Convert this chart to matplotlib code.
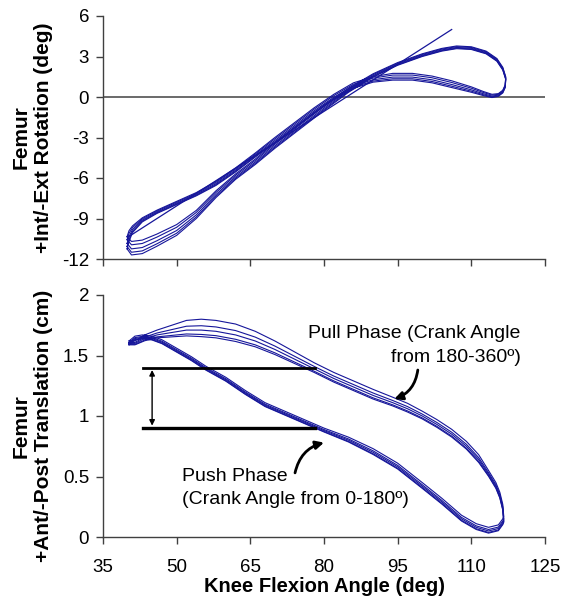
import numpy as np
import matplotlib.pyplot as plt

# knee flexion angle ticks
x_ticks = [35, 50, 65, 80, 95, 110, 125]

# femur rotation loop: first the lower/outer branch, then the return branch
rot_x = [39.9, 40.8, 43, 46, 50, 54, 58, 62, 66, 70, 75, 80, 85, 90, 95, 100, 104, 107, 110, 113, 115.2, 116.4, 117.0,
         116.9, 116.4, 115.5, 114.2, 112.5, 110, 106, 102, 98, 94, 90, 86, 82, 78, 74, 70, 66, 62, 58, 54, 50, 46, 43, 41, 40.3]
rot_y = [-10.8, -11.2, -11.1, -10.6, -9.85, -8.7, -7.2, -5.9, -4.8, -3.6, -2.2, -0.8, 0.5, 1.6, 2.45, 3.1, 3.5, 3.68, 3.62, 3.3, 2.75, 2.1, 1.4,
         0.8, 0.4, 0.15, 0.08, 0.25, 0.55, 0.95, 1.3, 1.5, 1.5, 1.3, 0.85, 0.0, -1.0, -2.1, -3.2, -4.3, -5.4, -6.4, -7.2, -7.85, -8.5, -9.1, -9.8, -10.3]
# how far the five cycles fan out at each point (deg)
rot_fan = [0.45, 0.5, 0.5, 0.45, 0.4, 0.3, 0.25, 0.2, 0.2, 0.2, 0.2, 0.2, 0.15, 0.12, 0.1, 0.1, 0.1, 0.1, 0.1, 0.1, 0.1, 0.1, 0.1,
           0.1, 0.1, 0.1, 0.12, 0.15, 0.2, 0.25, 0.25, 0.25, 0.25, 0.2, 0.2, 0.2, 0.2, 0.2, 0.2, 0.15, 0.15, 0.15, 0.12, 0.12, 0.12, 0.15, 0.25, 0.4]
rot_cycles = [-1.0, -0.6, -0.1, 0.5, 1.0]

# regression line for rotation
fit_x = [40, 106]
fit_y = [-10.4, 5.0]

# femur translation loop: push phase, then pull phase
tr_x = [40.3, 41.5, 43, 45, 47, 50, 53, 56, 60, 64, 68, 72, 76, 80, 85, 90, 95, 100, 104, 108, 111, 113.5, 115.5, 116.4,
        116.6, 116.4, 115.8, 115.0, 113.5, 111.5, 109, 106, 103, 100, 97, 94, 90, 86, 82, 78, 74, 70, 66, 62, 58, 55, 52, 49, 46, 43.5, 41.5]
tr_y = [1.60, 1.64, 1.65, 1.64, 1.61, 1.54, 1.47, 1.39, 1.30, 1.19, 1.09, 1.02, 0.95, 0.88, 0.80, 0.70, 0.58, 0.42, 0.29, 0.15, 0.08, 0.05, 0.07, 0.12,
        0.14, 0.24, 0.34, 0.42, 0.52, 0.64, 0.75, 0.85, 0.93, 1.00, 1.06, 1.11, 1.17, 1.24, 1.31, 1.39, 1.47, 1.55, 1.62, 1.67, 1.70, 1.71, 1.71, 1.69, 1.67, 1.64, 1.60]
tr_fan = [0.02, 0.02, 0.02, 0.02, 0.02, 0.02, 0.02, 0.02, 0.02, 0.02, 0.02, 0.02, 0.02, 0.02, 0.025, 0.03, 0.03, 0.03, 0.03, 0.03, 0.03, 0.03, 0.03, 0.03,
          0.03, 0.03, 0.03, 0.03, 0.03, 0.04, 0.04, 0.04, 0.04, 0.04, 0.045, 0.045, 0.05, 0.05, 0.05, 0.05, 0.06, 0.07, 0.08, 0.09, 0.09, 0.09, 0.08, 0.06, 0.04, 0.03, 0.02]
tr_cycles = [1.0, 0.4, 0.0, -0.4, -0.6]

line_color = '#16169a'
plt.rcParams['font.family'] = ['Liberation Sans', 'DejaVu Sans']
plt.rcParams['axes.unicode_minus'] = False


def style_axis(ax):
    ax.spines['top'].set_visible(False)
    ax.spines['right'].set_visible(False)
    for side in ['left', 'bottom']:
        ax.spines[side].set_color('#404040')
        ax.spines[side].set_linewidth(1.0)
    ax.tick_params(direction='out', length=5, width=1, color='#404040', labelsize=13.5)
    ax.tick_params(axis='y', pad=5)
    ax.tick_params(axis='x', pad=11)
    ax.set_xlim(35, 125)
    ax.set_xticks(x_ticks)


def draw_loops(ax, xs, ys, fan, cycles):
    xs = np.array(xs + xs[:1])
    ys = np.array(ys + ys[:1])
    fan = np.array(fan + fan[:1])
    for c in cycles:
        ax.plot(xs, ys + c * fan, color=line_color, lw=0.8)


def main():
    fig = plt.figure(figsize=(5.61, 5.96), dpi=100)

    # top: rotation
    ax1 = fig.add_axes([103 / 561, 1 - 259 / 596, 442 / 561, 243 / 596])
    style_axis(ax1)
    ax1.set_ylim(-12, 6)
    ax1.set_yticks([-12, -9, -6, -3, 0, 3, 6])
    ax1.set_xticklabels([])
    ax1.axhline(0, color='#505050', lw=1.2)
    draw_loops(ax1, rot_x, rot_y, rot_fan, rot_cycles)
    ax1.plot(fit_x, fit_y, color=line_color, lw=0.9)
    ax1.set_ylabel("Femur\n+Int/-Ext Rotation (deg)", fontsize=15, fontweight='bold')
    ax1.yaxis.set_label_coords(-0.113, 0.5)

    # bottom: translation
    ax2 = fig.add_axes([103 / 561, 1 - 537 / 596, 442 / 561, 242 / 596])
    style_axis(ax2)
    ax2.set_ylim(0, 2)
    ax2.set_yticks([0, 0.5, 1, 1.5, 2])
    ax2.set_yticklabels(['0', '0.5', '1', '1.5', '2'])
    draw_loops(ax2, tr_x, tr_y, tr_fan, tr_cycles)

    ax2.plot([43.1, 78.2], [1.4, 1.4], color='black', lw=2)
    ax2.plot([43.1, 78.2], [0.9, 0.9], color='black', lw=2.4)
    ax2.annotate('', xy=(45, 0.92), xytext=(45, 1.38),
                 arrowprops=dict(arrowstyle='<|-|>', color='black', lw=1, mutation_scale=8,
                                 shrinkA=0, shrinkB=0))

    ax2.text(120.0, 1.683, 'Pull Phase (Crank Angle', ha='right', va='center', fontsize=14)
    ax2.text(120.0, 1.485, 'from 180-360º)', ha='right', va='center', fontsize=14)
    ax2.annotate('', xy=(94.3, 1.14), xytext=(99.1, 1.38),
                 arrowprops=dict(arrowstyle='-|>', color='black', lw=2, mutation_scale=12,
                                 shrinkA=0, shrinkB=0, connectionstyle='arc3,rad=-0.3'))

    ax2.text(51.1, 0.498, 'Push Phase', ha='left', va='center', fontsize=14)
    ax2.text(51.1, 0.306, '(Crank Angle from 0-180º)', ha='left', va='center', fontsize=14)
    ax2.annotate('', xy=(80.0, 0.78), xytext=(74.1, 0.53),
                 arrowprops=dict(arrowstyle='-|>', color='black', lw=2, mutation_scale=12,
                                 shrinkA=0, shrinkB=0, connectionstyle='arc3,rad=-0.3'))

    ax2.set_ylabel("Femur\n+Ant/-Post Translation (cm)", fontsize=15, fontweight='bold')
    ax2.yaxis.set_label_coords(-0.113, 0.46)
    ax2.set_xlabel("Knee Flexion Angle (deg)", fontsize=14.5, fontweight='bold')
    ax2.xaxis.set_label_coords(0.5, -0.166)

    fig.savefig('out.png', dpi=100)


if __name__ == "__main__":
    main()
